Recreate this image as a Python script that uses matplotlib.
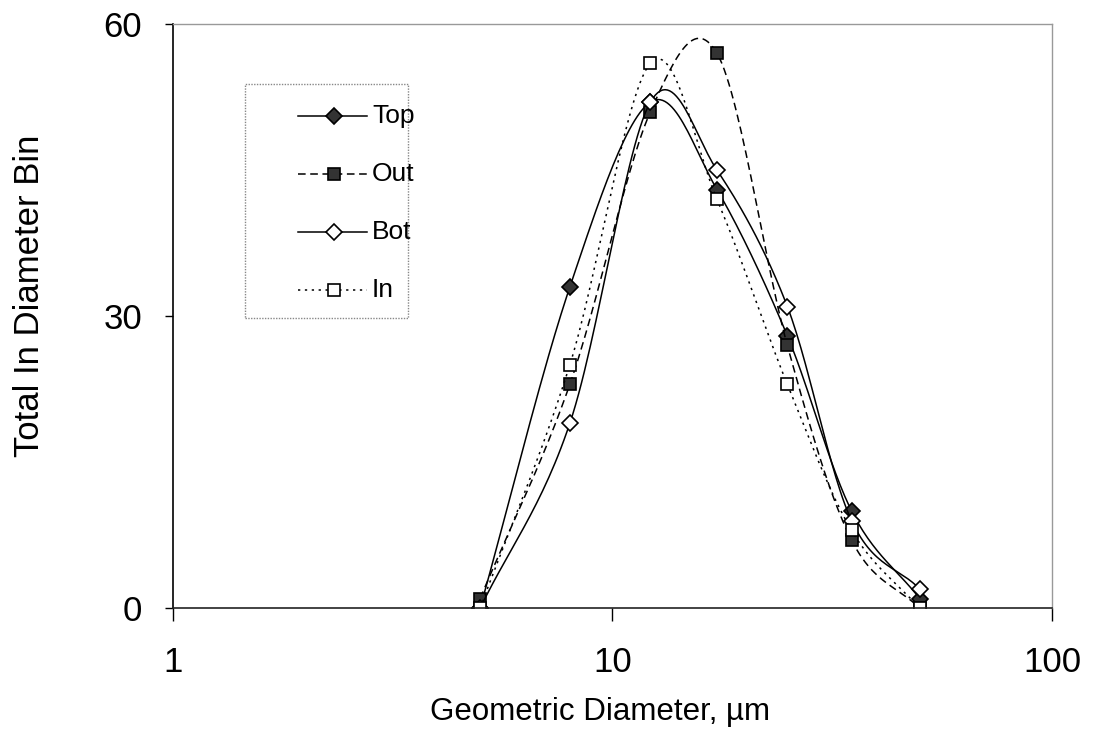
import numpy as np
import matplotlib.pyplot as plt
from matplotlib.patches import Rectangle

# Particle counts per diameter bin for each sampling position
diameter = [5.0, 8.0, 12.2, 17.3, 25.0, 35.0, 50.0]
top = [0, 33, 52, 43, 28, 10, 1]
out = [1, 23, 51, 57, 27, 7, 0]
bot = [0, 19, 52, 45, 31, 9, 2]
inner = [0, 25, 56, 42, 23, 8, 0]
names = ['Top', 'Out', 'Bot', 'In']

plt.rcParams['font.family'] = ['Liberation Sans', 'DejaVu Sans']


def smooth(x, y, n=30):
    # Catmull-Rom spline through the points, in log-x space
    lx = np.log10(x)
    p = np.column_stack([lx, y]).astype(float)
    p = np.vstack([p[0] - (p[1] - p[0]), p, p[-1] + (p[-1] - p[-2])])
    xs, ys = [], []
    t = np.linspace(0, 1, n)
    for i in range(1, len(p) - 2):
        p0, p1, p2, p3 = p[i - 1], p[i], p[i + 1], p[i + 2]
        m1 = (p2 - p0) / 2
        m2 = (p3 - p1) / 2
        h00 = 2 * t**3 - 3 * t**2 + 1
        h10 = t**3 - 2 * t**2 + t
        h01 = -2 * t**3 + 3 * t**2
        h11 = t**3 - t**2
        seg = (np.outer(h00, p1) + np.outer(h10, m1)
               + np.outer(h01, p2) + np.outer(h11, m2))
        xs.append(seg[:, 0])
        ys.append(seg[:, 1])
    return 10 ** np.concatenate(xs), np.concatenate(ys)


fig = plt.figure(figsize=(10.94, 7.34), dpi=100)
ax = fig.add_axes([0.158, 0.1713, 0.8036, 0.7957])
ax.set_xscale('log')
ax.set_xlim(1, 100)
ax.set_ylim(0, 60)

styles = [
    ('-', 'D', '#333333'),
    ((0, (5, 3)), 's', '#333333'),
    ('-', 'D', 'white'),
    ((0, (1.5, 3)), 's', 'white'),
]
lw = 1.1


def mk_kw(mk, fc):
    return dict(marker=mk, markersize=9 if mk == 's' else 8.5,
                markerfacecolor=fc, markeredgecolor='black',
                markeredgewidth=1.2)


for vals, (ls, mk, fc) in zip([top, out, bot, inner], styles):
    sx, sy = smooth(diameter, vals)
    ax.plot(sx, sy, color='black', linestyle=ls, linewidth=lw)
    ax.plot(diameter, vals, linestyle='none', **mk_kw(mk, fc))

ax.set_xticks([1, 10, 100])
ax.set_xticklabels(['1', '10', '100'])
ax.set_yticks([0, 30, 60])
ax.minorticks_off()
ax.tick_params(axis='x', length=9, width=1, pad=18, labelsize=25)
ax.tick_params(axis='y', length=6, width=1, pad=16, labelsize=25)

for side in ['top', 'right']:
    ax.spines[side].set_color('#999999')
    ax.spines[side].set_linestyle((0, (1, 1)))
    ax.spines[side].set_linewidth(1)
ax.spines['left'].set_color('black')
ax.spines['left'].set_linewidth(1.2)
ax.spines['bottom'].set_color('#222222')
ax.spines['bottom'].set_linewidth(1.2)

ax.set_xlabel('Geometric Diameter, µm', fontsize=22.5, va='center')
ax.set_ylabel('Total In Diameter Bin', fontsize=25, va='center')
ax.xaxis.set_label_coords(0.486, -0.177)
ax.yaxis.set_label_coords(-0.163, 0.535)


# legend box drawn in axes coordinates
def ax_x(px):
    return (px - 173) / 879.0


def ax_y(py):
    return (608.3 - py) / 584.3


ax.add_patch(Rectangle((ax_x(245), ax_y(318)), ax_x(408) - ax_x(245),
                       ax_y(84) - ax_y(318), transform=ax.transAxes,
                       facecolor='white', edgecolor='#888888',
                       linestyle=(0, (1, 1)), linewidth=1, zorder=5))
for i, (name, (ls, mk, fc)) in enumerate(zip(names, styles)):
    yy = ax_y(116 + 58 * i)
    ax.plot([ax_x(298), ax_x(367)], [yy, yy], transform=ax.transAxes,
            color='black', linestyle=ls, linewidth=lw, zorder=6)
    ax.plot([ax_x(334)], [yy], transform=ax.transAxes, linestyle='none',
            zorder=7, **mk_kw(mk, fc))
    ax.text(ax_x(372), yy, name, transform=ax.transAxes, fontsize=19,
            va='center', ha='left', zorder=7)

fig.savefig('out.png', dpi=100)
